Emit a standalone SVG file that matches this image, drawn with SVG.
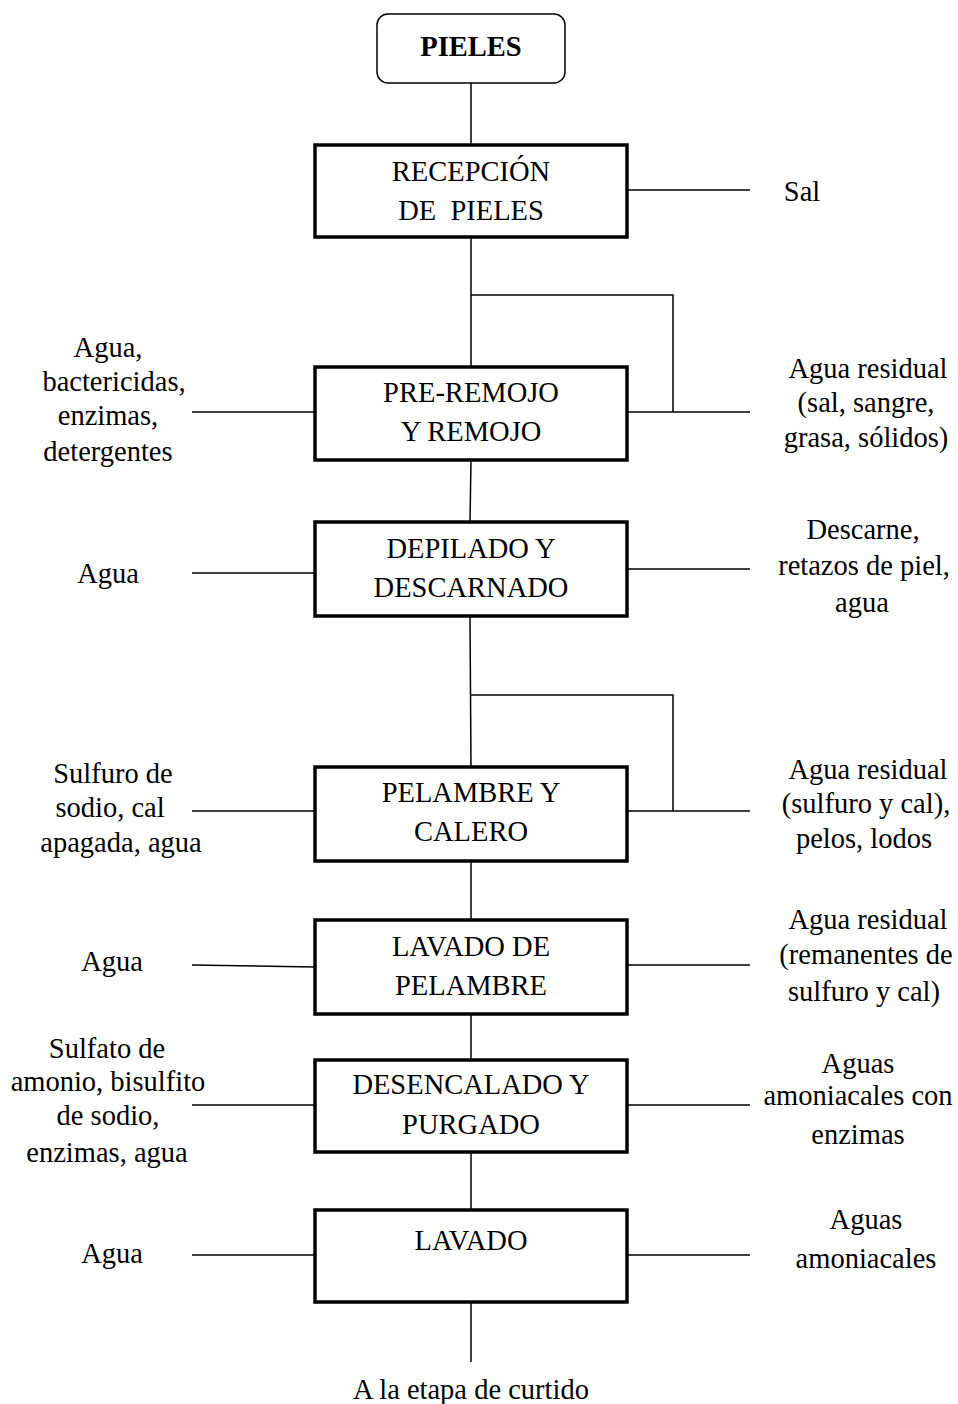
<svg xmlns="http://www.w3.org/2000/svg" width="958" height="1404" viewBox="0 0 958 1404">
<style>
.box{fill:#fff;stroke:#000;stroke-width:3.5}
.start{fill:#fff;stroke:#000;stroke-width:1.5}
.ln{stroke:#000;stroke-width:1.5;fill:none}
text{font-family:"Liberation Serif","Times New Roman",serif;font-size:28.5px;fill:#000;text-anchor:middle}
.b{font-weight:bold}
</style>
<rect width="958" height="1404" fill="#fff"/>
<g id="connectors">
<line class="ln" x1="471" y1="83" x2="471" y2="145"/>
<line class="ln" x1="627" y1="190" x2="750" y2="190"/>
<line class="ln" x1="471" y1="237" x2="471" y2="367"/>
<polyline class="ln" points="471,295 673,295 673,412"/>
<line class="ln" x1="192" y1="412" x2="315" y2="412"/>
<line class="ln" x1="627" y1="412" x2="750" y2="412"/>
<line class="ln" x1="471" y1="460" x2="470" y2="522"/>
<line class="ln" x1="192" y1="573" x2="315" y2="573"/>
<line class="ln" x1="627" y1="569" x2="750" y2="569"/>
<line class="ln" x1="470" y1="616" x2="471" y2="767"/>
<polyline class="ln" points="470,695 673,695 673,811"/>
<line class="ln" x1="192" y1="811" x2="315" y2="811"/>
<line class="ln" x1="627" y1="811" x2="750" y2="811"/>
<line class="ln" x1="471" y1="861" x2="471" y2="920"/>
<line class="ln" x1="192" y1="965" x2="315" y2="967"/>
<line class="ln" x1="627" y1="965" x2="750" y2="965"/>
<line class="ln" x1="471" y1="1014" x2="471" y2="1060"/>
<line class="ln" x1="192" y1="1105" x2="315" y2="1105"/>
<line class="ln" x1="627" y1="1105" x2="750" y2="1105"/>
<line class="ln" x1="471" y1="1152" x2="471" y2="1210"/>
<line class="ln" x1="192" y1="1255" x2="315" y2="1255"/>
<line class="ln" x1="627" y1="1255" x2="750" y2="1255"/>
<line class="ln" x1="471" y1="1302" x2="471" y2="1362"/>
</g>
<g id="n-pieles">
<rect class="start" x="377" y="14" width="188" height="69" rx="11"/>
<text class="b" x="471" y="56">PIELES</text>
</g>
<g id="n-recepcion">
<rect class="box" x="315" y="145" width="312" height="92"/>
<text x="471" y="181">RECEPCIÓN</text>
<text x="471" y="220" xml:space="preserve">DE  PIELES</text>
</g>
<g id="n-remojo">
<rect class="box" x="315" y="367" width="312" height="93"/>
<text x="471" y="402">PRE-REMOJO</text>
<text x="471" y="441">Y REMOJO</text>
</g>
<g id="n-depilado">
<rect class="box" x="315" y="522" width="312" height="94"/>
<text x="471" y="558">DEPILADO Y</text>
<text x="471" y="597">DESCARNADO</text>
</g>
<g id="n-pelambre">
<rect class="box" x="315" y="767" width="312" height="94"/>
<text x="471" y="802">PELAMBRE Y</text>
<text x="471" y="841">CALERO</text>
</g>
<g id="n-lavado-pelambre">
<rect class="box" x="315" y="920" width="312" height="94"/>
<text x="471" y="956">LAVADO DE</text>
<text x="471" y="995">PELAMBRE</text>
</g>
<g id="n-desencalado">
<rect class="box" x="315" y="1060" width="312" height="92"/>
<text x="471" y="1094">DESENCALADO Y</text>
<text x="471" y="1134">PURGADO</text>
</g>
<g id="n-lavado">
<rect class="box" x="315" y="1210" width="312" height="92"/>
<text x="471" y="1250">LAVADO</text>
</g>
<g id="labels">
<text x="802" y="201">Sal</text>
<text x="108" y="357">Agua,</text>
<text x="114" y="391">bactericidas,</text>
<text x="108" y="425">enzimas,</text>
<text x="108" y="461">detergentes</text>
<text x="868" y="378">Agua residual</text>
<text x="866" y="412">(sal, sangre,</text>
<text x="866" y="447">grasa, sólidos)</text>
<text x="863" y="539">Descarne,</text>
<text x="864" y="575">retazos de piel,</text>
<text x="862" y="612">agua</text>
<text x="108" y="583">Agua</text>
<text x="113" y="783">Sulfuro de</text>
<text x="110" y="817">sodio, cal</text>
<text x="121" y="852">apagada, agua</text>
<text x="868" y="779">Agua residual</text>
<text x="866" y="813">(sulfuro y cal),</text>
<text x="864" y="848">pelos, lodos</text>
<text x="112" y="971">Agua</text>
<text x="868" y="929">Agua residual</text>
<text x="866" y="964">(remanentes de</text>
<text x="864" y="1001">sulfuro y cal)</text>
<text x="107" y="1058">Sulfato de</text>
<text x="108" y="1091">amonio, bisulfito</text>
<text x="108" y="1125">de sodio,</text>
<text x="107" y="1162">enzimas, agua</text>
<text x="858" y="1073">Aguas</text>
<text x="858" y="1105">amoniacales con</text>
<text x="858" y="1144">enzimas</text>
<text x="112" y="1263">Agua</text>
<text x="866" y="1229">Aguas</text>
<text x="866" y="1268">amoniacales</text>
<text x="471" y="1399">A la etapa de curtido</text>
</g>
</svg>
